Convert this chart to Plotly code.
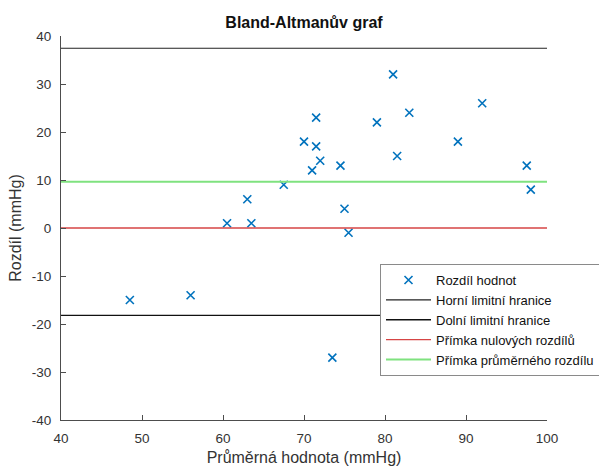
import plotly.graph_objects as go

# Data
mean_values = [48.5, 56, 60.5, 63, 63.5, 67.5, 70, 71, 71.5, 71.5, 72, 73.5,
               74.5, 75, 75.5, 79, 81, 81.5, 83, 89, 92, 97.5, 98]
diff_values = [-15, -14, 1, 6, 1, 9, 18, 12, 23, 17, 14, -27,
               13, 4, -1, 22, 32, 15, 24, 18, 26, 13, 8]
upper_limit = 37.45
lower_limit = -18.2
zero_line = 0
mean_diff = 9.65
x_span = [40, 100]
x_ticks = [40, 50, 60, 70, 80, 90, 100]
y_ticks = [-40, -30, -20, -10, 0, 10, 20, 30, 40]
y_tick_labels = ["-40", "-30", "-20", "-10", "0", "10", "20", "30", "40"]

names = ["Rozdíl hodnot", "Horní limitní hranice", "Dolní limitní hranice",
         "Přímka nulových rozdílů", "Přímka průměrného rozdílu"]

FONT = "Liberation Sans, Arial"

fig = go.Figure()
fig.add_trace(go.Scatter(x=mean_values, y=diff_values, mode="markers", name=names[0],
                         marker=dict(symbol="x-thin", size=8, color="#0072BD",
                                     line=dict(width=1.6, color="#0072BD"))))
fig.add_trace(go.Scatter(x=x_span, y=[upper_limit] * 2, mode="lines", name=names[1],
                         line=dict(color="#222222", width=1.1)))
fig.add_trace(go.Scatter(x=x_span, y=[lower_limit] * 2, mode="lines", name=names[2],
                         line=dict(color="#111111", width=1.3)))
fig.add_trace(go.Scatter(x=x_span, y=[zero_line] * 2, mode="lines", name=names[3],
                         line=dict(color="#D64545", width=1.3)))
fig.add_trace(go.Scatter(x=x_span, y=[mean_diff] * 2, mode="lines", name=names[4],
                         line=dict(color="#7FE27F", width=2)))

axis_common = dict(showline=True, linecolor="#4d4d4d", linewidth=1, mirror=False,
                   ticks="inside", ticklen=5, tickcolor="#4d4d4d", showgrid=False,
                   zeroline=False, tickfont=dict(family=FONT, size=13.5, color="#333333"))

fig.update_layout(
    width=599, height=466,
    margin=dict(l=61, r=52, t=36, b=46, autoexpand=False),
    plot_bgcolor="white", paper_bgcolor="white",
    title=dict(text="<b>Bland-Altmanův graf</b>", x=0.5, xref="paper", xanchor="center",
               y=1 - 22 / 466, yref="container", yanchor="middle",
               font=dict(family=FONT, size=16, color="#111111")),
    xaxis=dict(range=x_span, tickvals=x_ticks, ticklabelstandoff=6,
               title=dict(text="Průměrná hodnota (mmHg)", standoff=10,
                          font=dict(family=FONT, size=16, color="#333333")),
               **axis_common),
    yaxis=dict(range=[-40, 40], tickvals=y_ticks, ticktext=y_tick_labels, ticklabelstandoff=6,
               title=dict(text="Rozdíl (mmHg)", standoff=6,
                          font=dict(family=FONT, size=16, color="#333333")),
               **axis_common),
    legend=dict(x=(380 - 61) / 486, y=(420 - 264) / 384, xanchor="left", yanchor="top",
                bgcolor="white", bordercolor="#8a8a8a", borderwidth=1,
                font=dict(family=FONT, size=13, color="#111111"),
                itemwidth=45, tracegroupgap=0),
    showlegend=True,
)

fig.write_html("out.html")
